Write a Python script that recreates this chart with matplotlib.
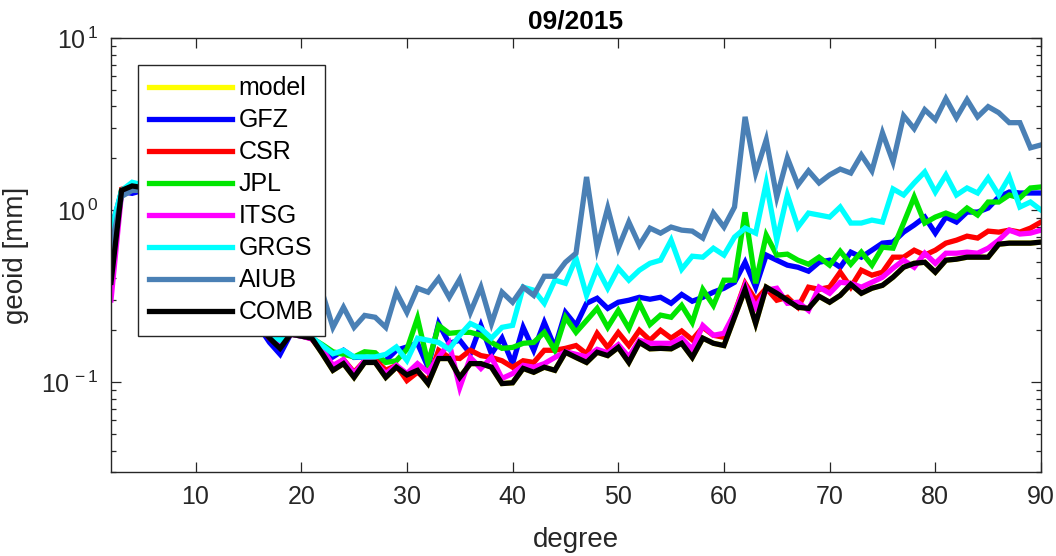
import numpy as np
import matplotlib
matplotlib.use("Agg")
import matplotlib.pyplot as plt
from matplotlib.ticker import LogLocator, NullFormatter, FixedLocator, FuncFormatter

plt.rcParams['font.family'] = ['Liberation Sans', 'DejaVu Sans']
plt.rcParams['mathtext.fontset'] = 'custom'
plt.rcParams['mathtext.rm'] = 'Liberation Sans'
plt.rcParams['mathtext.it'] = 'Liberation Sans:italic'
plt.rcParams['mathtext.bf'] = 'Liberation Sans:bold'

degrees = np.arange(2, 91)

comb = [0.38, 1.30, 1.38, 1.35, 1.25, 1.10, 0.95, 0.80, 0.65,
        0.55, 0.45, 0.38, 0.30, 0.25, 0.21, 0.18, 0.157, 0.19, 0.185,
        0.18, 0.146, 0.117, 0.128, 0.1065, 0.13, 0.13, 0.1065, 0.122, 0.11,
        0.117, 0.098, 0.137, 0.137, 0.1065, 0.128, 0.128, 0.122, 0.098, 0.099,
        0.12, 0.114, 0.122, 0.117, 0.149, 0.139, 0.13, 0.149, 0.1425, 0.159,
        0.13, 0.17, 0.156, 0.157, 0.156, 0.168, 0.139, 0.18, 0.168, 0.163,
        0.238, 0.346, 0.219, 0.356, 0.328, 0.299, 0.272, 0.268, 0.315, 0.291,
        0.319, 0.37, 0.328, 0.351, 0.365, 0.407, 0.465, 0.49, 0.497, 0.435,
        0.511, 0.518, 0.532, 0.532, 0.532, 0.633, 0.642, 0.642, 0.642, 0.651]

csr = [0.40, 1.32, 1.38, 1.36, 1.27, 1.12, 0.97, 0.82, 0.67,
       0.56, 0.46, 0.39, 0.31, 0.26, 0.22, 0.18, 0.16, 0.19, 0.187,
       0.178, 0.15, 0.122, 0.135, 0.114, 0.133, 0.135, 0.117, 0.125, 0.102,
       0.114, 0.102, 0.153, 0.139, 0.137, 0.153, 0.1425, 0.139, 0.133, 0.122,
       0.133, 0.13, 0.153, 0.153, 0.157, 0.163, 0.146, 0.192, 0.159, 0.194,
       0.163, 0.20, 0.175, 0.20, 0.18, 0.198, 0.176, 0.208, 0.187, 0.182,
       0.251, 0.375, 0.299, 0.351, 0.299, 0.311, 0.272, 0.356, 0.346, 0.356,
       0.435, 0.356, 0.447, 0.418, 0.435, 0.532, 0.532, 0.584, 0.547, 0.584,
       0.642, 0.668, 0.705, 0.687, 0.754, 0.744, 0.764, 0.744, 0.785, 0.851]

itsg = [0.30, 1.25, 1.35, 1.33, 1.24, 1.10, 0.95, 0.80, 0.66,
        0.55, 0.45, 0.38, 0.30, 0.25, 0.21, 0.18, 0.163, 0.19, 0.185,
        0.178, 0.155, 0.125, 0.135, 0.112, 0.133, 0.13, 0.112, 0.125, 0.112,
        0.128, 0.114, 0.14, 0.168, 0.093, 0.139, 0.12, 0.139, 0.105, 0.112,
        0.125, 0.122, 0.128, 0.139, 0.15, 0.145, 0.14, 0.155, 0.148, 0.165,
        0.14, 0.175, 0.168, 0.168, 0.168, 0.18, 0.155, 0.213, 0.187, 0.192,
        0.251, 0.365, 0.272, 0.342, 0.351, 0.287, 0.291, 0.261, 0.356, 0.328,
        0.38, 0.375, 0.356, 0.38, 0.407, 0.459, 0.511, 0.465, 0.561, 0.49,
        0.561, 0.561, 0.569, 0.561, 0.60, 0.668, 0.764, 0.725, 0.734, 0.764]

jpl = [0.64, 1.30, 1.38, 1.36, 1.28, 1.13, 0.98, 0.84, 0.70,
       0.58, 0.48, 0.40, 0.33, 0.27, 0.23, 0.185, 0.17, 0.20, 0.19,
       0.18, 0.165, 0.15, 0.145, 0.14, 0.15, 0.148, 0.13, 0.133, 0.155,
       0.235, 0.128, 0.2135, 0.192, 0.1945, 0.1945, 0.187, 0.17, 0.157, 0.159,
       0.168, 0.17, 0.1945, 0.153, 0.238, 0.1945, 0.228, 0.268, 0.208, 0.261,
       0.205, 0.287, 0.216, 0.245, 0.238, 0.279, 0.222, 0.345, 0.279, 0.391,
       0.391, 0.97, 0.375, 0.715, 0.547, 0.554, 0.511, 0.484, 0.532, 0.478,
       0.576, 0.484, 0.569, 0.478, 0.608, 0.60, 0.84, 1.19, 0.84, 0.91,
       0.96, 0.91, 1.027, 0.935, 1.113, 1.113, 1.223, 1.175, 1.343, 1.362]

gfz = [0.76, 1.28, 1.25, 1.30, 1.25, 1.12, 0.97, 0.83, 0.68,
       0.56, 0.46, 0.38, 0.31, 0.26, 0.21, 0.17, 0.145, 0.19, 0.185,
       0.18, 0.16, 0.14, 0.153, 0.139, 0.14, 0.1334, 0.1334, 0.153, 0.16,
       0.168, 0.122, 0.219, 0.168, 0.175, 0.146, 0.2135, 0.146, 0.18, 0.128,
       0.208, 0.153, 0.222, 0.159, 0.254, 0.2135, 0.287, 0.307, 0.268, 0.291,
       0.299, 0.311, 0.303, 0.311, 0.287, 0.323, 0.295, 0.311, 0.333, 0.351,
       0.38, 0.497, 0.356, 0.547, 0.511, 0.478, 0.465, 0.441, 0.497, 0.511,
       0.465, 0.569, 0.532, 0.584, 0.642, 0.651, 0.744, 0.818, 0.91, 0.734,
       0.91, 0.851, 0.973, 0.973, 1.027, 1.19, 1.273, 1.256, 1.256, 1.256]

grgs = [0.76, 1.30, 1.45, 1.40, 1.30, 1.15, 1.00, 0.85, 0.70,
        0.58, 0.48, 0.40, 0.33, 0.27, 0.23, 0.19, 0.175, 0.195, 0.187,
        0.182, 0.163, 0.146, 0.153, 0.14, 0.14, 0.14, 0.145, 0.16, 0.1334,
        0.18, 0.175, 0.17, 0.155, 0.187, 0.219, 0.205, 0.18, 0.208, 0.2135,
        0.356, 0.342, 0.287, 0.391, 0.375, 0.525, 0.319, 0.459, 0.351, 0.459,
        0.391, 0.447, 0.49, 0.511, 0.668, 0.453, 0.539, 0.532, 0.60, 0.547,
        0.696, 0.785, 0.734, 1.437, 0.668, 1.223, 0.796, 0.96, 0.935, 0.91,
        1.041, 0.84, 0.84, 0.874, 0.851, 1.326, 1.223, 1.437, 1.665, 1.273,
        1.60, 1.223, 1.343, 1.256, 1.537, 1.223, 1.557, 1.041, 1.113, 1.0]

aiub = [0.60, 1.20, 1.30, 1.30, 1.25, 1.15, 1.00, 0.90, 0.80,
        0.70, 0.60, 0.50, 0.45, 0.40, 0.35, 0.30, 0.28, 0.30, 0.27,
        0.30, 0.33, 0.208, 0.272, 0.208, 0.244, 0.238, 0.208, 0.333, 0.254,
        0.351, 0.333, 0.401, 0.311, 0.396, 0.254, 0.356, 0.219, 0.333, 0.291,
        0.356, 0.319, 0.412, 0.412, 0.497, 0.561, 1.557, 0.60, 1.027, 0.60,
        0.851, 0.625, 0.785, 0.734, 0.796, 0.764, 0.754, 0.687, 0.96, 0.796,
        1.041, 3.48, 1.64, 2.56, 1.19, 2.01, 1.40, 1.69, 1.437, 1.60,
        1.73, 1.64, 2.09, 1.69, 2.81, 1.905, 3.53, 2.97, 3.83, 3.35,
        4.44, 3.44, 4.38, 3.48, 3.99, 3.68, 3.22, 3.22, 2.30, 2.39]

# model curve lies underneath the solutions and is not visible in the reference
model = list(comb)

labels = ['model', 'GFZ', 'CSR', 'JPL', 'ITSG', 'GRGS', 'AIUB', 'COMB']
series = [model, gfz, csr, jpl, itsg, grgs, aiub, comb]
colors = ['#ffff00', '#0000ff', '#ff0000', '#00e600', '#ff00ff', '#00ffff', '#4a80b5', '#000000']

fig = plt.figure(figsize=(10.56, 5.56), dpi=100)
ax = fig.add_axes([111/1056, 1-472/556, (1041-111)/1056, (472-38)/556])

for vals, lab, col in zip(series, labels, colors):
    ax.plot(degrees, vals, color=col, lw=3.8, label=lab, solid_joinstyle='miter')

ax.set_yscale('log')
ax.set_xlim(2, 90)
ax.set_ylim(0.03, 10)
ax.xaxis.set_major_locator(FixedLocator([10, 20, 30, 40, 50, 60, 70, 80, 90]))
ax.yaxis.set_major_locator(LogLocator(base=10, numticks=10))
ax.yaxis.set_minor_locator(LogLocator(base=10, subs=np.arange(2, 10), numticks=10))
ax.yaxis.set_minor_formatter(NullFormatter())
ax.yaxis.set_major_formatter(FuncFormatter(
    lambda v, pos: r'$\mathregular{10^{\,%d}}$' % int(round(np.log10(v)))))

edge = '#262626'
for s in ax.spines.values():
    s.set_color(edge)
    s.set_linewidth(1.0)
ax.tick_params(which='both', direction='in', top=True, right=True, colors=edge,
               labelcolor='#262626', labelsize=18)
ax.tick_params(which='major', length=7, width=0.9, pad=9)
ax.tick_params(which='minor', length=3.5, width=0.9)

ax.set_xlabel('degree', fontsize=20, color='#262626', labelpad=13)
ax.set_ylabel('geoid [mm]', fontsize=20, color='#262626', labelpad=9)
ax.set_title('09/2015', fontsize=19, fontweight='bold', color='#000000', pad=7)

leg = ax.legend(loc='upper left', bbox_to_anchor=((138-111)/930, (472-65)/434),
                borderaxespad=0, fontsize=18, handlelength=3.3, handletextpad=0.28,
                labelspacing=0.32, borderpad=0.45, fancybox=False, framealpha=1,
                edgecolor=edge)
leg.get_frame().set_linewidth(1.0)

fig.savefig('out.png', dpi=100)
